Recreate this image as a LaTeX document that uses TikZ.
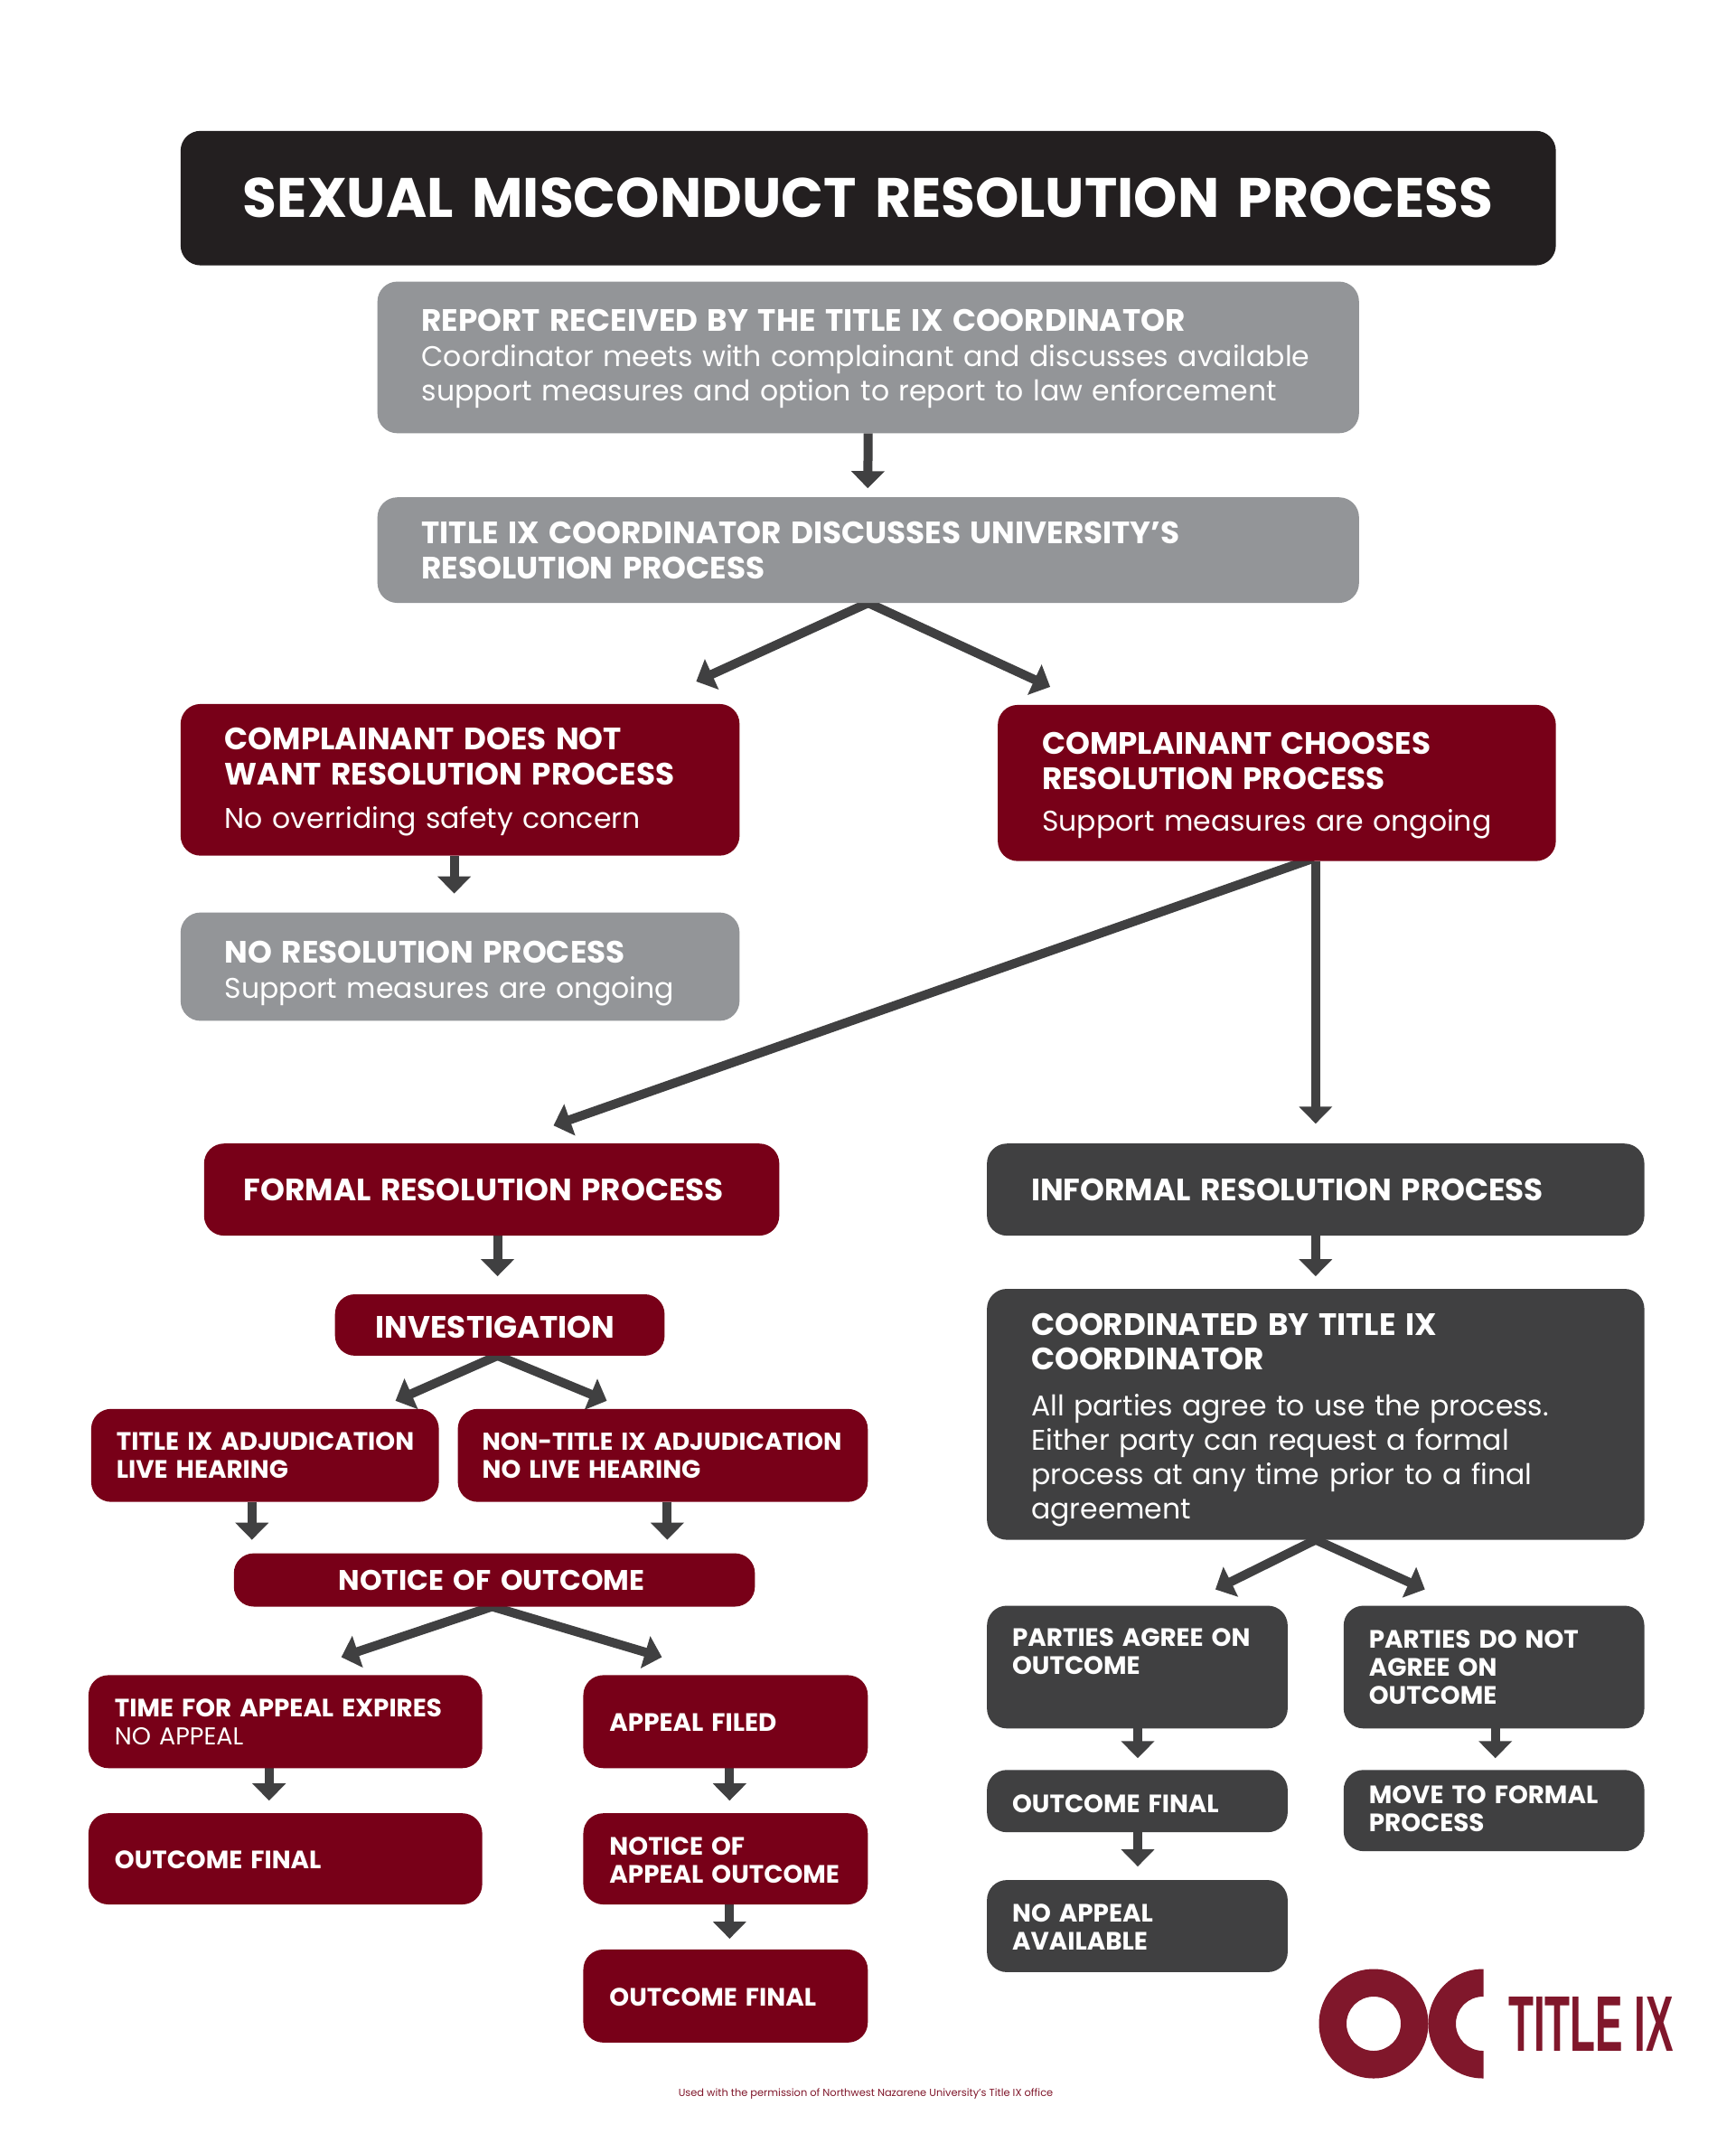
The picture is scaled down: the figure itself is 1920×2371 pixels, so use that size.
\documentclass[tikz,border=0pt]{standalone}
\usepackage{fontspec}
\usepackage{graphicx}
\usetikzlibrary{arrows.meta,calc}
\setmainfont{Poppins}
\pgfdeclarelayer{under}
\pgfsetlayers{under,main}
\definecolor{maroon}{HTML}{780018}
\definecolor{greyb}{HTML}{939598}
\definecolor{darkb}{HTML}{404041}
\definecolor{blackb}{HTML}{231F20}
\definecolor{logoc}{HTML}{80172B}
\newcommand\szL{\fontsize{31.5}{38.6}\selectfont}
\newcommand\szS{\fontsize{27}{31}\selectfont}
\newcommand\szT{\fontsize{61.5}{70}\selectfont}
\newcommand\hd[1]{{\fontsize{34.2}{38.6}\selectfont\bfseries #1}}
\newcommand\hs[1]{{\fontsize{27.8}{31}\selectfont\bfseries #1}}
\newcommand\up[1]{\rule{0pt}{#1pt}}
\tikzset{
 boxn/.style={rounded corners=22pt,text=white,align=left,inner ysep=0pt,outer sep=0pt},
 mar/.style={boxn,fill=maroon},
 gry/.style={boxn,fill=greyb},
 drk/.style={boxn,fill=darkb},
 arr/.style={draw=darkb,line width=10pt,-{Triangle[length=19pt,width=36pt]}},
 arrs/.style={arr,shorten <=-9pt},
}
\newcommand\bx[8]{%
 \pgfmathsetlengthmacro\bw{((#4)-(#2))*0.9992}%
 \pgfmathsetlengthmacro\bh{((#5)-(#3))*0.9986}%
 \pgfmathsetlengthmacro\tw{\bw-2*(#7)}%
 \pgfmathsetmacro\cx{((#2)+(#4))/2}%
 \pgfmathsetmacro\cy{((#3)+(#5))/2}%
 \node[#6,minimum width=\bw,minimum height=\bh,inner xsep=#7pt,text width=\tw] (#1) at (\cx,\cy) {#8};}
\begin{document}
\begin{tikzpicture}[x=1pt,y=-1pt]
\useasboundingbox (0,0) rectangle (1920,2371);
\begin{pgfonlayer}{under}
\fill[white] (0,0) rectangle (1920,2371);
\end{pgfonlayer}
\begin{scope}[x=0.9992pt,y=-0.9986pt]
% boxes
\bx{title}{200}{145}{1723}{294}{boxn,fill=blackb,font=\szT,align=center}{20}{\textbf{SEXUAL MISCONDUCT RESOLUTION PROCESS}}
\bx{report}{418}{312}{1505}{480}{gry,font=\szL}{49}{\up{28}\hd{REPORT RECEIVED BY THE TITLE IX COORDINATOR}\\\mbox{Coordinator meets with complainant and discusses available}\\\mbox{support measures and option to report to law enforcement}}
\bx{discuss}{418}{551}{1505}{668}{gry,font=\szL}{49}{\hd{TITLE IX COORDINATOR DISCUSSES UNIVERSITY’S}\\\hd{RESOLUTION PROCESS}}
\bx{doesnot}{200}{780}{819}{948}{mar,font=\szL}{49}{\up{29}\hd{COMPLAINANT DOES NOT}\\\hd{WANT RESOLUTION PROCESS}\\[10pt]No overriding safety concern}
\bx{chooses}{1105}{781}{1723}{954}{mar,font=\szL}{49}{\up{30}\hd{COMPLAINANT CHOOSES}\\\hd{RESOLUTION PROCESS}\\[8pt]Support measures are ongoing}
\bx{nores}{200}{1011}{819}{1131}{gry,font=\szL}{49}{\up{39}\hd{NO RESOLUTION PROCESS}\\Support measures are ongoing}
\bx{formal}{226}{1267}{863}{1369}{mar,font=\szL}{44}{\hd{FORMAL RESOLUTION PROCESS}}
\bx{informal}{1093}{1267}{1821}{1369}{drk,font=\szL}{49}{\hd{INFORMAL RESOLUTION PROCESS}}
\bx{invest}{371}{1434}{736}{1502}{mar,font=\szL}{45}{\up{30}\hd{INVESTIGATION}}
\bx{titleadj}{101}{1561}{486}{1664}{mar,font=\szS}{28}{\mbox{\hs{TITLE IX ADJUDICATION}}\\\hs{LIVE HEARING}}
\bx{nontitle}{507}{1561}{961}{1664}{mar,font=\szS}{27}{\mbox{\bfseries NON-TITLE IX ADJUDICATION}\\\hs{NO LIVE HEARING}}
\bx{notice}{259}{1721}{836}{1780}{mar,font=\fontsize{31.3}{38}\selectfont}{116}{\mbox{\textbf{NOTICE OF OUTCOME}}}
\bx{timeapp}{98}{1856}{534}{1959}{mar,font=\szS}{29}{\up{21}\hs{TIME FOR APPEAL EXPIRES}\\NO APPEAL}
\bx{appeal}{646}{1856}{961}{1959}{mar,font=\szS}{29}{\up{21}\hs{APPEAL FILED}}
\bx{finalL}{98}{2009}{534}{2110}{mar,font=\szS}{29}{\up{22}\hs{OUTCOME FINAL}}
\bx{noticeapp}{646}{2009}{961}{2110}{mar,font=\szS}{29}{\up{22}\hs{NOTICE OF}\\\hs{APPEAL OUTCOME}}
\bx{finalM}{646}{2160}{961}{2263}{mar,font=\szS}{29}{\up{23}\hs{OUTCOME FINAL}}
\bx{coord}{1093}{1428}{1821}{1706}{drk,font=\fontsize{31.5}{38}\selectfont}{49}{\up{36}\hd{COORDINATED BY TITLE IX}\\\hd{COORDINATOR}\\[13pt]All parties agree to use the process.\\Either party can request a formal\\process at any time prior to a final\\agreement}
\bx{agree}{1093}{1779}{1426}{1915}{drk,font=\szS}{28}{\hs{PARTIES AGREE ON}\\\hs{OUTCOME}\\[4pt]\mbox{}}
\bx{notagree}{1488}{1779}{1821}{1915}{drk,font=\szS}{28}{\up{21}\hs{PARTIES DO NOT}\\\hs{AGREE ON}\\\hs{OUTCOME}}
\bx{finalR}{1093}{1961}{1426}{2030}{drk,font=\szS}{28}{\up{26.5}\hs{OUTCOME FINAL}}
\bx{moveto}{1488}{1961}{1821}{2051}{drk,font=\szS}{28}{\hs{MOVE TO FORMAL}\\\hs{PROCESS}\rule[-3.6pt]{0pt}{0pt}}
\bx{noapp}{1093}{2083}{1426}{2185}{drk,font=\szS}{28}{\up{22}\hs{NO APPEAL}\\\hs{AVAILABLE}}
% connectors
\coordinate (tA) at (961,541);
\coordinate (tB) at (771,755);
\coordinate (tC) at (1163,761);
\coordinate (tD) at (503,990);
\coordinate (tE) at (613,1247);
\coordinate (sE) at (1446,954);
\coordinate (tF) at (1457,1245);
\coordinate (tG) at (551,1414);
\coordinate (tH) at (1457,1414);
\coordinate (tI) at (438,1552);
\coordinate (tJ) at (672,1552);
\coordinate (tK) at (279,1706);
\coordinate (tL) at (739,1706);
\coordinate (tM) at (378,1836);
\coordinate (tN) at (733,1836);
\coordinate (tO) at (298,1995);
\coordinate (tP) at (808,1995);
\coordinate (tQ) at (808,2148);
\coordinate (tR) at (1346,1761);
\coordinate (tS) at (1578,1761);
\coordinate (tT) at (1260,1948);
\coordinate (tU) at (1656,1948);
\coordinate (tV) at (1260,2068);
\coordinate (sI) at (551,1502);
\coordinate (sM) at (545,1780);
\begin{pgfonlayer}{under}
\draw[arr] (report.south) -- (tA);
\draw[arrs] (discuss.south) -- (tB);
\draw[arrs] (discuss.south) -- (tC);
\draw[arr] (doesnot.south -| tD) -- (tD);
\draw[arrs] (sE) -- (tE);
\draw[arr] (chooses.south -| tF) -- (tF);
\draw[arr] (formal.south -| tG) -- (tG);
\draw[arr] (informal.south -| tH) -- (tH);
\draw[arrs] (sI) -- (tI);
\draw[arrs] (sI) -- (tJ);
\draw[arr] (titleadj.south -| tK) -- (tK);
\draw[arr] (nontitle.south -| tL) -- (tL);
\draw[arrs] (sM) -- (tM);
\draw[arrs] (sM) -- (tN);
\draw[arr] (timeapp.south -| tO) -- (tO);
\draw[arr] (appeal.south -| tP) -- (tP);
\draw[arr] (noticeapp.south -| tQ) -- (tQ);
\draw[arrs] (coord.south) -- (tR);
\draw[arrs] (coord.south) -- (tS);
\draw[arr] (agree.south -| tT) -- (tT);
\draw[arr] (notagree.south -| tU) -- (tU);
\draw[arr] (finalR.south -| tV) -- (tV);
\end{pgfonlayer}
\end{scope}
% logo
\fill[logoc,even odd rule] (1520,2239) circle (60.5) (1520,2239) circle (30);
\begin{scope}
\clip (1570,2170) rectangle (1641.5,2310);
\fill[logoc,even odd rule] (1641,2239) circle (60.5) (1641,2239) circle (30);
\end{scope}
\node[text=logoc,inner sep=0pt,anchor=west] (lg) at (1669,2239) {\resizebox{183pt}{60pt}{\fontspec{Liberation Sans}\bfseries TITLE IX}};
\node[text=logoc,inner sep=0pt,anchor=base] (foot) at (958,2319) {\fontsize{11.4}{14}\selectfont Used with the permission of Northwest Nazarene University's Title IX office};
\end{tikzpicture}
\end{document}
